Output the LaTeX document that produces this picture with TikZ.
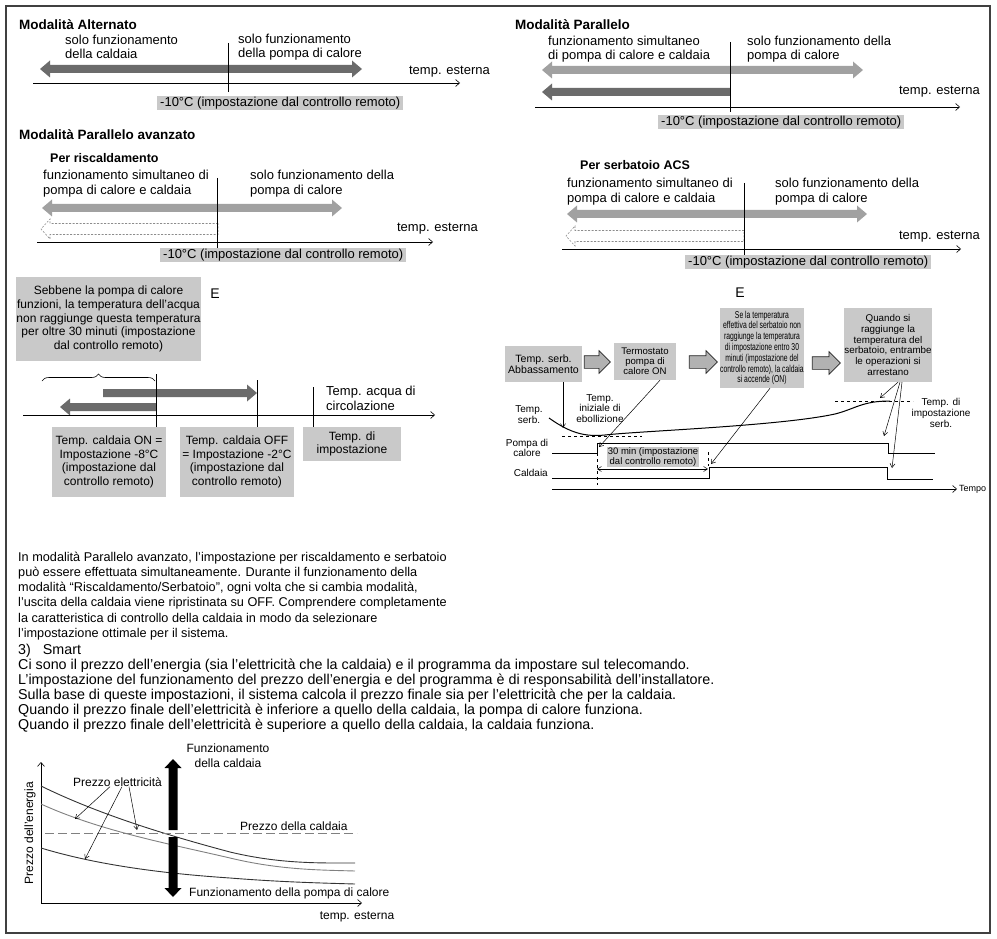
\documentclass[tikz,border=0pt]{standalone}
\usepackage{fontspec}
\setmainfont{Liberation Sans}
\newfontfamily\narrowsf[FakeStretch=0.68]{Liberation Sans}
\usetikzlibrary{arrows.meta,positioning,calc,shapes.arrows,decorations.pathreplacing}
\definecolor{bargray}{gray}{0.42}
\definecolor{lightgraybar}{gray}{0.63}
\definecolor{boxgray}{gray}{0.79}
\tikzset{
      heading/.style={font=\bfseries\fontsize{13.5}{15}\selectfont, anchor=west, inner sep=0pt},
      subhead/.style={font=\bfseries\fontsize{12.5}{14}\selectfont, anchor=west, inner sep=0pt},
      lbl/.style={font=\fontsize{13}{14}\selectfont, align=left, anchor=west, inner sep=0pt},
      lblwide/.style={font=\fontsize{13}{15.5}\selectfont, align=left, anchor=west, inner sep=0pt},
      setlbl/.style={fill=boxgray, font=\fontsize{13}{14}\selectfont, anchor=west, inner xsep=3pt, inner ysep=1pt},
      notebox/.style={fill=boxgray, font=\fontsize{12}{13.7}\selectfont, align=center, inner sep=0pt},
      flowbox/.style={fill=boxgray, font=\fontsize{10.6}{10.8}\selectfont, align=center, inner sep=0pt},
      small/.style={font=\fontsize{10}{10.8}\selectfont, align=center, inner sep=0pt},
      graphlbl/.style={font=\fontsize{12}{15}\selectfont, align=center, inner sep=0pt},
      note/.style={font=\fontsize{12.7}{15.2}\selectfont, align=left, anchor=west, inner sep=0pt},
      body/.style={font=\fontsize{14.3}{15}\selectfont, align=left, anchor=west, inner sep=0pt},
      axis/.style={line width=0.6pt, -{Straight Barb[length=4pt,width=7pt]}},
      tick/.style={line width=0.6pt},
      ptr/.style={line width=0.5pt, -{Straight Barb[length=4pt,width=5pt]}},
      hollow/.style={draw=black!45, dash pattern=on 2pt off 1.5pt, line width=0.6pt},
      flowarrow/.style={single arrow, draw=black!85, fill=black!30, line width=0.7pt,
        single arrow head extend=5pt, inner xsep=0pt, inner ysep=6pt}
    }
\newcommand{\barboth}[4]{%
  \fill[#4] (#1,#3) -- (#1+10,#3-8.5) -- (#1+10,#3-4) -- (#2-10,#3-4) -- (#2-10,#3-8.5) -- (#2,#3)
    -- (#2-10,#3+8.5) -- (#2-10,#3+4) -- (#1+10,#3+4) -- (#1+10,#3+8.5) -- cycle;}
\newcommand{\barleft}[4]{%
  \fill[#4] (#1,#3) -- (#1+10,#3-8.5) -- (#1+10,#3-4) -- (#2,#3-4) -- (#2,#3+4) -- (#1+10,#3+4) -- (#1+10,#3+8.5) -- cycle;}
\newcommand{\barright}[4]{%
  \fill[#4] (#2,#3) -- (#2-10,#3-8.5) -- (#2-10,#3-4) -- (#1,#3-4) -- (#1,#3+4) -- (#2-10,#3+4) -- (#2-10,#3+8.5) -- cycle;}
\newcommand{\hollowarrow}[3]{%
  \draw[hollow] (#2,#3-5.5) -- (#1+9,#3-5.5) -- (#1+9,#3-10) -- (#1,#3) -- (#1+9,#3+10) -- (#1+9,#3+5.5) -- (#2,#3+5.5) -- cycle;}

\begin{document}
\begin{tikzpicture}[x=1pt,y=-1pt]
    \useasboundingbox (0,0) rectangle (997,939);
    \draw[line width=1.3pt, black!75] (6,6) rectangle (990,933);

    \node[heading] (alt) at (19,25) {Modalità Alternato};
    \node[lbl] (altcald) at (65,47) {solo funzionamento\\della caldaia};
    \node[lbl] (altpdc) at (238,47) {solo funzionamento\\della pompa di calore};
    \barboth{40}{362}{69}{bargray}
    \draw[tick] (228,43) -- (228,92);
    \draw[axis] (33,83) -- (460,83);
    \node[lbl, anchor=east] (altext) at (490,72) {temp. esterna};
    \node[setlbl] (altset) at (157,103) {-10°C (impostazione dal controllo remoto)};

    \node[heading] (par) at (515,25) {Modalità Parallelo};
    \node[lbl] (parsim) at (548,49.5) {funzionamento simultaneo\\di pompa di calore e caldaia};
    \node[lbl] (parpdc) at (747,49.5) {solo funzionamento della\\pompa di calore};
    \barboth{542}{863}{70}{lightgraybar}
    \barleft{542}{730}{92}{bargray}
    \draw[tick] (730,42) -- (730,112);
    \draw[axis] (535,107) -- (960,107);
    \node[lbl, anchor=east] (parext) at (980,92) {temp. esterna};
    \node[setlbl] (parset) at (658,122) {-10°C (impostazione dal controllo remoto)};

    \node[heading] (avz) at (19,135) {Modalità Parallelo avanzato};
    \node[subhead] (risc) at (50,158) {Per riscaldamento};
    \node[lblwide] (riscsim) at (43,183.5) {funzionamento simultaneo di\\pompa di calore e caldaia};
    \node[lblwide] (riscpdc) at (250,183.5) {solo funzionamento della\\pompa di calore};
    \barboth{42}{342}{208}{lightgraybar}
    \hollowarrow{41}{218}{229}
    \draw[tick] (217,178) -- (217,248);
    \draw[axis] (37,242) -- (433,242);
    \node[lbl, anchor=east] (riscext) at (478,229) {temp. esterna};
    \node[setlbl] (riscset) at (160,255) {-10°C (impostazione dal controllo remoto)};

    \node[subhead] (acs) at (580,165) {Per serbatoio ACS};
    \node[lblwide] (acssim) at (567,191.5) {funzionamento simultaneo di\\pompa di calore e caldaia};
    \node[lblwide] (acspdc) at (775,191.5) {solo funzionamento della\\pompa di calore};
    \barboth{567}{867}{214}{lightgraybar}
    \hollowarrow{566}{744}{236}
    \draw[tick] (744,183) -- (744,256);
    \draw[axis] (562,249) -- (961,249);
    \node[lbl, anchor=east] (acsext) at (980,237) {temp. esterna};
    \node[setlbl] (acsset) at (685,262) {-10°C (impostazione dal controllo remoto)};

    \node[notebox, minimum width=185pt, minimum height=84pt] (sebbene) at (108.5,319) {Sebbene la pompa di calore\\funzioni, la temperatura dell’acqua\\non raggiunge questa temperatura\\per oltre 30 minuti (impostazione\\dal controllo remoto)};
    \node[font=\fontsize{14}{14}\selectfont, inner sep=0pt] (eleft) at (215,294) {E};
    \node[notebox, minimum width=114pt, minimum height=70pt] (onbox) at (109,462) {Temp. caldaia ON =\\Impostazione -8°C\\(impostazione dal\\controllo remoto)};
    \node[notebox, minimum width=114pt, minimum height=70pt] (offbox) at (237,462) {Temp. caldaia OFF\\= Impostazione -2°C\\(impostazione dal\\controllo remoto)};
    \node[notebox, minimum width=98pt, minimum height=34pt] (setbox) at (352,444) {Temp. di\\impostazione};
    \draw[decorate, decoration={brace, amplitude=7pt}, line width=0.6pt] (42,381) -- (155,381);
    \barright{103}{257}{393}{bargray}
    \barleft{60}{156}{407}{bargray}
    \draw[tick] (156,374) -- (onbox.north -| 156,0);
    \draw[tick] (257,380) -- (offbox.north -| 257,0);
    \draw[tick] (313,387) -- (setbox.north -| 313,0);
    \draw[axis] (23,415) -- (435,415);
    \node[lbl, font=\fontsize{13}{15}\selectfont] (circ) at (326,398.5) {Temp. acqua di\\circolazione};

    \node[font=\fontsize{14}{14}\selectfont, inner sep=0pt] (eright) at (740,293) {E};
    \node[flowbox, minimum width=77pt, minimum height=36pt] (abbass) at (543.5,364) {Temp. serb.\\Abbassamento};
    \node[flowbox, font=\fontsize{9.6}{10}\selectfont, minimum width=62pt, minimum height=37pt] (termo) at (645,361.5) {Termostato\\pompa di\\calore ON};
    \node[flowbox, font=\narrowsf\fontsize{10}{10.8}\selectfont, minimum width=84pt, minimum height=80pt] (entro) at (762,348) {Se la temperatura\\effettiva del serbatoio non\\raggiunge la temperatura\\di impostazione entro 30\\minuti (impostazione del\\controllo remoto), la caldaia\\si accende (ON)};
    \node[flowbox, font=\fontsize{9.8}{10.9}\selectfont, minimum width=88pt, minimum height=74pt] (arresto) at (888,345) {Quando si\\raggiunge la\\temperatura del\\serbatoio, entrambe\\le operazioni si\\arrestano};
    \node[flowarrow, minimum height=26pt, anchor=tip] at ($(termo.west |- 0,362)+(-3,0)$) {};
    \node[flowarrow, minimum height=28pt, anchor=tip] at ($(entro.west |- 0,362)+(-2,0)$) {};
    \node[flowarrow, minimum height=28pt, anchor=tip] at ($(arresto.west |- 0,363)+(-3,0)$) {};

    \node[small] (serb) at (529,415) {Temp.\\serb.};
    \node[small] (eboll) at (600,408.5) {Temp.\\iniziale di\\ebollizione};
    \node[small] (pdc) at (527,448) {Pompa di\\calore};
    \node[small, anchor=east] (cald) at (548,473) {Caldaia};
    \node[small] (setserb) at (941,413) {Temp. di\\impostazione\\serb.};
    \node[small, font=\fontsize{9}{10}\selectfont, anchor=west] (tempo) at (959,489) {Tempo};
    \draw[line width=1pt] (549,418) .. controls (570,433) and (585,437) .. (605,435) .. controls (640,431) and (780,426) .. (835,414) .. controls (855,409) and (862,401) .. (890,401);
    \draw[dashed, line width=0.6pt] (562,436) -- (642,436);
    \draw[dashed, line width=0.6pt] (835,401) -- (913,401);
    \draw[line width=0.8pt] (552,453) -- (597,453) -- (597,443) -- (888,443) -- (888,453) -- (935,453);
    \draw[line width=0.8pt] (552,478) -- (709,478) -- (709,467) -- (887,467) -- (887,479) -- (933,479);
    \draw[axis] (552,489) -- (957,489);
    \draw[dashed, line width=0.5pt] (597,453) -- (597,485);
    \draw[dashed, line width=0.5pt] (708,452) -- (708,466);
    \node[fill=boxgray, font=\fontsize{9.5}{9.5}\selectfont, align=center, inner xsep=1pt, inner ysep=0.5pt] (trenta) at (653,457) {30 min (impostazione\\dal controllo remoto)};
    \draw[line width=0.5pt, {Straight Barb[length=4pt,width=5pt]}-{Straight Barb[length=4pt,width=5pt]}] (597,469) -- (708,469);
    \draw[ptr] (abbass.south -| 563,0) -- (563,428);
    \draw[ptr] (termo.south -| 660,0) -- (599,447);
    \draw[ptr] (entro.south -| 770,0) -- (711,464);
    \draw[ptr] (arresto.south -| 898,0) -- (880,398);
    \draw[ptr] (arresto.south -| 900,0) -- (884,436);
    \draw[ptr] (arresto.south -| 902,0) -- (892,468);

    \node[note] (para) at (18,596) {In modalità Parallelo avanzato, l’impostazione per riscaldamento e serbatoio\\può essere effettuata simultaneamente. Durante il funzionamento della\\modalità “Riscaldamento/Serbatoio”, ogni volta che si cambia modalità,\\l’uscita della caldaia viene ripristinata su OFF. Comprendere completamente\\la caratteristica di controllo della caldaia in modo da selezionare\\l’impostazione ottimale per il sistema.};
    \node[body] (smart) at (18,651) {3)\hspace{12pt}Smart};
    \node[body] (smarttxt) at (18,696) {Ci sono il prezzo dell’energia (sia l’elettricità che la caldaia) e il programma da impostare sul telecomando.\\L’impostazione del funzionamento del prezzo dell’energia e del programma è di responsabilità dell’installatore.\\Sulla base di queste impostazioni, il sistema calcola il prezzo finale sia per l’elettricità che per la caldaia.\\Quando il prezzo finale dell’elettricità è inferiore a quello della caldaia, la pompa di calore funziona.\\Quando il prezzo finale dell’elettricità è superiore a quello della caldaia, la caldaia funziona.};

    \draw[axis] (41,903) -- (41,762);
    \draw[axis] (41,903) -- (362,903);
    \node[graphlbl] (ext) at (357,917) {temp. esterna};
    \node[graphlbl, rotate=90] (prezzo) at (30,833) {Prezzo dell’energia};
    \draw[line width=0.9pt, black!80] (41,786) .. controls (100,815) and (170,836) .. (230,852) .. controls (280,864) and (320,863) .. (355,863);
    \draw[line width=0.9pt, black!50] (41,804) .. controls (100,831) and (170,844) .. (230,858) .. controls (280,870) and (320,870) .. (355,871);
    \draw[line width=0.9pt, black!80] (41,848) .. controls (100,866) and (170,874) .. (230,878) .. controls (280,882) and (320,883) .. (355,884);
    \draw[black!50, line width=0.8pt, dash pattern=on 9pt off 4pt] (45,833) -- (357,833);
    \fill[black] (173,759) -- (181.5,768) -- (177.5,768) -- (177.5,830) -- (168.5,830) -- (168.5,768) -- (164.5,768) -- cycle;
    \fill[black] (173,897) -- (181.5,888) -- (177.5,888) -- (177.5,837) -- (168.5,837) -- (168.5,888) -- (164.5,888) -- cycle;
    \node[graphlbl] (fcald) at (228,755.5) {Funzionamento\\della caldaia};
    \node[graphlbl, anchor=west] (fpdc) at (189,893) {Funzionamento della pompa di calore};
    \node[graphlbl, anchor=west] (pcald) at (240,826) {Prezzo della caldaia};
    \node[graphlbl, anchor=west] (pelet) at (73,782) {Prezzo elettricità};
    \draw[ptr] (pelet.south -| 110,0) -- (75,819);
    \draw[ptr] (pelet.south -| 122,0) -- (85,859);
    \draw[ptr] (pelet.south -| 129,0) -- (137,830);
    \end{tikzpicture}
\end{document}
